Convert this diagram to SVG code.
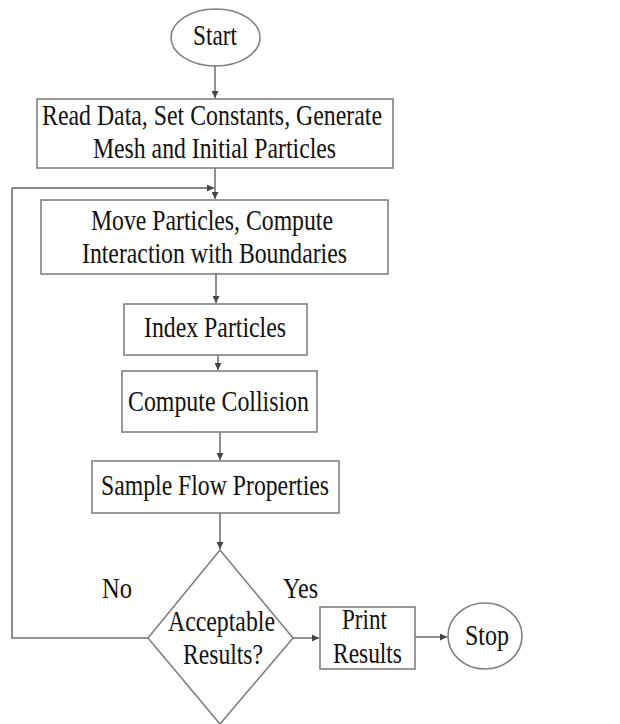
<svg xmlns="http://www.w3.org/2000/svg" width="620" height="724" viewBox="0 0 620 724">
<defs>
<marker id="ah" viewBox="0 0 8 8" refX="8" refY="4" markerWidth="7" markerHeight="7" markerUnits="userSpaceOnUse" orient="auto">
<path d="M0,0 L8,4 L0,8 z" fill="#444"/>
</marker>
</defs>
<style>
.shape{fill:#fff;stroke:#808080;stroke-width:1.6}
.t{font-family:"Liberation Serif","Times New Roman",serif;font-size:28.5px;fill:#111;text-anchor:middle}
.c{fill:none;stroke:#606060;stroke-width:1.4;marker-end:url(#ah)}
.l{fill:none;stroke:#707070;stroke-width:1.6}
</style>
<rect width="620" height="724" fill="#fff"/>
<g id="connectors">
<line class="c" x1="215" y1="66" x2="215" y2="98"/>
<line class="c" x1="215" y1="168" x2="215" y2="199"/>
<polyline class="l" points="148,638 12,638 12,188"/>
<line class="c" x1="12" y1="188" x2="214" y2="188"/>
<line class="c" x1="216" y1="274" x2="216" y2="303"/>
<line class="c" x1="218" y1="355" x2="218" y2="370"/>
<line class="c" x1="220" y1="432" x2="220" y2="460"/>
<line class="c" x1="220" y1="513" x2="220" y2="549"/>
<line class="c" x1="293" y1="638" x2="319" y2="638"/>
<line class="c" x1="415" y1="637" x2="447" y2="637"/>
</g>
<g id="start">
<ellipse class="shape" cx="215.5" cy="37.5" rx="44.5" ry="28.5"/>
<text class="t" x="215" y="45" textLength="44" lengthAdjust="spacingAndGlyphs">Start</text>
</g>
<g id="init">
<rect class="shape" x="37" y="99" width="356" height="69"/>
<text class="t" x="212" y="125" textLength="340" lengthAdjust="spacingAndGlyphs">Read Data, Set Constants, Generate</text>
<text class="t" x="214.5" y="158" textLength="243" lengthAdjust="spacingAndGlyphs">Mesh and Initial Particles</text>
</g>
<g id="move">
<rect class="shape" x="41" y="200" width="347" height="74"/>
<text class="t" x="212" y="230" textLength="242" lengthAdjust="spacingAndGlyphs">Move Particles, Compute</text>
<text class="t" x="214.5" y="263" textLength="265" lengthAdjust="spacingAndGlyphs">Interaction with Boundaries</text>
</g>
<g id="index">
<rect class="shape" x="124" y="304" width="183" height="51"/>
<text class="t" x="215" y="337" textLength="142" lengthAdjust="spacingAndGlyphs">Index Particles</text>
</g>
<g id="collision">
<rect class="shape" x="122" y="371" width="195" height="61"/>
<text class="t" x="218.5" y="411" textLength="181" lengthAdjust="spacingAndGlyphs">Compute Collision</text>
</g>
<g id="sample">
<rect class="shape" x="92" y="461" width="247" height="52"/>
<text class="t" x="215" y="495" textLength="228" lengthAdjust="spacingAndGlyphs">Sample Flow Properties</text>
</g>
<g id="decision">
<polygon class="shape" points="220,550 293,638 220,724 148,638"/>
<text class="t" x="221.5" y="631" textLength="107" lengthAdjust="spacingAndGlyphs">Acceptable</text>
<text class="t" x="223" y="664" textLength="80" lengthAdjust="spacingAndGlyphs">Results?</text>
</g>
<g id="labels">
<text class="t" x="117" y="598" textLength="30" lengthAdjust="spacingAndGlyphs">No</text>
<text class="t" x="300.5" y="598" textLength="35" lengthAdjust="spacingAndGlyphs">Yes</text>
</g>
<g id="print">
<rect class="shape" x="320" y="607" width="95" height="62"/>
<text class="t" x="364.5" y="629" textLength="45" lengthAdjust="spacingAndGlyphs">Print</text>
<text class="t" x="367.5" y="663" textLength="69" lengthAdjust="spacingAndGlyphs">Results</text>
</g>
<g id="stop">
<ellipse class="shape" cx="485" cy="636" rx="37" ry="33"/>
<text class="t" x="487" y="645" textLength="44" lengthAdjust="spacingAndGlyphs">Stop</text>
</g>
</svg>
